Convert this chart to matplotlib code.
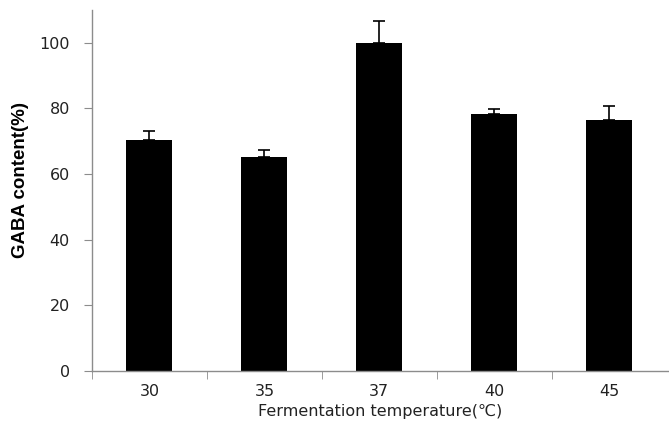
import matplotlib.pyplot as plt
import numpy as np

temperatures = ['30', '35', '37', '40', '45']
gaba = [70.3, 65.2, 99.8, 78.4, 76.5]
gaba_err = [2.9, 2.2, 7.0, 1.4, 4.1]

axis_grey = '#8c8c8c'

fig = plt.figure(figsize=(6.69, 4.43), dpi=100)
ax = fig.add_axes([92 / 669, 72 / 443, 577 / 669, 361 / 443])

x = np.arange(len(temperatures))
# bars with upper error bars only
ax.bar(x, gaba, width=0.4, color='black', zorder=2)
ax.errorbar(x, gaba, yerr=[np.zeros(len(gaba)), gaba_err], fmt='none',
            ecolor='black', elinewidth=1.2, capsize=4, capthick=1.2, zorder=3)

ax.set_xlim(-0.5, len(temperatures) - 0.48)
ax.set_ylim(0, 110)
ax.set_yticks(np.arange(0, 101, 20))
ax.set_xticks(x)
ax.set_xticklabels(temperatures)
# ticks between categories
ax.set_xticks(np.arange(len(temperatures)) + 0.5 - 1, minor=True)
ax.tick_params(axis='x', which='major', length=0, pad=9, labelsize=11.5, colors='#222222')
ax.tick_params(axis='x', which='minor', length=6, direction='out', color=axis_grey)
ax.tick_params(axis='y', length=6, direction='out', color=axis_grey, labelsize=11.5,
               labelcolor='#222222', pad=10)

for side in ['top', 'right']:
    ax.spines[side].set_visible(False)
for side in ['left', 'bottom']:
    ax.spines[side].set_color(axis_grey)
    ax.spines[side].set_linewidth(1.0)

ax.set_ylabel('GABA content(%)', fontsize=13.5, fontweight='bold',
              family='Liberation Sans')
ax.yaxis.set_label_coords(-0.11, 0.53)
ax.set_xlabel('Fermentation temperature(℃)', fontsize=11.5, labelpad=4, color='#222222')

fig.savefig('out.png', dpi=100)
